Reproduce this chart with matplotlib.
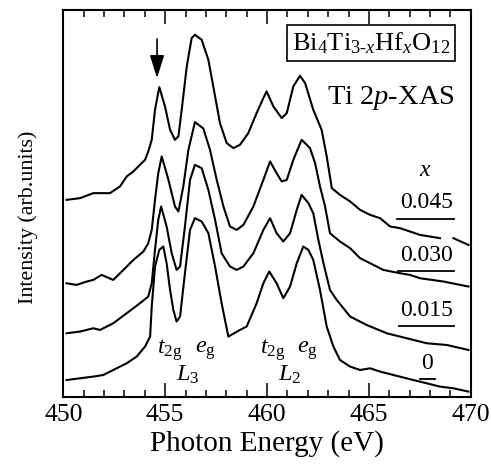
import numpy as np
import matplotlib
matplotlib.use("Agg")
import matplotlib.pyplot as plt
from matplotlib.ticker import MultipleLocator

plt.rcParams['font.family'] = ['Liberation Serif', 'DejaVu Serif']
plt.rcParams['mathtext.fontset'] = 'custom'
plt.rcParams['mathtext.rm'] = 'Liberation Serif'
plt.rcParams['mathtext.it'] = 'Liberation Serif:italic'
plt.rcParams['mathtext.bf'] = 'Liberation Serif:bold'

nan = np.nan

# Ti 2p XAS spectra, stacked (arb. units, offsets included)
e_045 = [450.16, 450.82, 451.47, 452.29, 452.78, 453.11, 453.44, 453.76, 454.01, 454.17,
         454.34, 454.50, 454.71, 454.99, 455.24, 455.48, 455.65, 455.81, 456.06, 456.30,
         456.46, 456.79, 457.12, 457.36, 457.69, 458.02, 458.35, 458.67, 459.08, 459.49,
         459.82, 459.98, 460.31, 460.72, 460.97, 461.29, 461.62, 461.87, 462.27, 462.68,
         462.93, 463.18, 463.58, 464.08, 464.57, 465.06, 465.55, 466.04, 466.53, 467.51,
         468.49, 468.8, 469.15, 469.89]
i_045 = [197.3, 199.0, 204.0, 204.0, 210.7, 220.7, 225.7, 232.3, 237.3, 245.7,
         257.3, 287.3, 310.0, 290.7, 267.3, 257.3, 260.7, 287.3, 330.7, 359.0,
         362.3, 357.3, 337.3, 310.7, 274.0, 254.0, 249.0, 252.3, 264.0, 284.0,
         299.0, 305.7, 290.7, 279.0, 284.0, 310.7, 321.3, 314.0, 287.3, 267.3,
         240.7, 209.0, 202.3, 195.7, 187.3, 182.3, 179.0, 170.7, 169.0, 162.3,
         159.0, nan, 159.0, 152.3]

e_030 = [450.16, 450.65, 451.15, 451.47, 451.88, 452.45, 452.95, 453.44, 453.93, 454.17,
         454.34, 454.50, 454.66, 454.83, 455.16, 455.48, 455.65, 455.89, 456.14, 456.46,
         456.87, 457.20, 457.53, 457.86, 458.18, 458.51, 458.84, 459.33, 459.82, 460.15,
         460.47, 460.72, 460.97, 461.29, 461.70, 462.11, 462.36, 462.60, 462.85, 463.09,
         463.58, 464.08, 464.57, 465.06, 465.71, 466.53, 467.02, 467.51, 468.66, 469.89]
i_030 = [114.0, 112.3, 115.7, 117.3, 122.3, 117.3, 127.3, 137.3, 145.7, 154.0,
         167.3, 197.3, 224.0, 240.7, 217.3, 190.7, 185.7, 210.7, 247.3, 275.0,
         268.7, 247.3, 217.3, 190.7, 170.7, 167.3, 172.3, 190.7, 217.3, 235.7,
         224.0, 215.7, 217.3, 237.3, 257.3, 249.0, 234.0, 210.7, 190.7, 164.0,
         155.7, 149.0, 139.0, 134.0, 127.3, 124.0, 122.3, 119.0, 115.7, 110.7]

e_015 = [450.16, 450.82, 451.47, 451.80, 452.45, 453.11, 453.76, 454.17, 454.34, 454.50,
         454.66, 454.80, 455.07, 455.32, 455.56, 455.73, 455.97, 456.22, 456.46, 456.79,
         457.12, 457.45, 457.77, 458.18, 458.51, 458.84, 459.33, 459.82, 460.15, 460.47,
         460.80, 461.13, 461.46, 461.70, 462.03, 462.27, 462.52, 462.77, 463.09, 463.42,
         464.08, 464.89, 465.88, 466.86, 467.84, 468.82, 469.89]
i_015 = [64.0, 65.7, 69.0, 67.3, 74.0, 84.0, 94.0, 100.7, 114.0, 147.3,
         177.3, 190.7, 170.7, 144.0, 127.3, 130.7, 170.7, 217.3, 232.3, 229.0,
         207.3, 177.3, 144.0, 130.7, 127.3, 130.7, 144.0, 167.3, 179.0, 164.0,
         155.7, 164.0, 187.3, 202.3, 194.0, 184.0, 157.3, 134.0, 107.3, 97.3,
         80.7, 72.3, 64.0, 59.0, 54.0, 52.3, 47.3]

e_000 = [450.16, 450.82, 451.47, 451.96, 452.45, 453.11, 453.60, 454.01, 454.26, 454.34,
         454.50, 454.71, 454.91, 455.07, 455.24, 455.40, 455.56, 455.73, 455.97, 456.22,
         456.46, 456.79, 457.12, 457.45, 457.77, 458.10, 458.67, 459.00, 459.49, 459.82,
         460.11, 460.47, 460.80, 461.13, 461.46, 461.78, 462.03, 462.27, 462.60, 462.93,
         463.26, 463.58, 464.08, 464.57, 465.06, 465.55, 466.20, 467.18, 467.84, 468.49,
         469.15, 469.89]
i_000 = [17.3, 19.0, 20.7, 22.3, 27.3, 34.0, 40.7, 50.7, 60.7, 90.7,
         130.7, 147.3, 150.7, 134.0, 107.3, 87.3, 75.7, 80.7, 124.0, 167.3,
         179.0, 175.7, 164.0, 130.7, 94.0, 60.7, 67.3, 70.7, 94.0, 114.0,
         125.7, 114.0, 99.0, 110.7, 134.0, 150.7, 147.3, 137.3, 107.3, 70.7,
         50.7, 37.3, 30.7, 27.3, 29.0, 25.7, 22.3, 17.3, 14.0, 10.7,
         9.0, 5.7]

x_labels = ['0.045', '0.030', '0.015', '0']

fig = plt.figure(figsize=(4.91, 4.66), dpi=100)
ax = fig.add_axes([0.129, 0.1474, 0.8297, 0.8311])

for e, i in [(e_045, i_045), (e_030, i_030), (e_015, i_015), (e_000, i_000)]:
    ax.plot(e, i, color='black', lw=1.5)

ax.set_xlim(450, 470)
ax.set_ylim(0, 387)
ax.xaxis.set_major_locator(MultipleLocator(5))
ax.xaxis.set_minor_locator(MultipleLocator(1))
ax.tick_params(axis='x', which='both', direction='in', top=True, bottom=True,
               labelsize=18.5, pad=5)
ax.tick_params(axis='x', which='major', length=10, width=1.1)
ax.tick_params(axis='x', which='minor', length=5, width=1.1)
ax.tick_params(axis='y', left=False, right=False, labelleft=False)
for s in ax.spines.values():
    s.set_linewidth(1.5)

ax.set_xlabel('Photon Energy (eV)', fontsize=21, labelpad=3)
ax.set_ylabel('Intensity (arb.units)', fontsize=15.8)
ax.yaxis.set_label_coords(-0.062, 0.465)

# sample formula and technique
ax.text(465.1, 354, r'Bi$_4$Ti$_{3\text{-}x}$Hf$_x$O$_{12}$', fontsize=19,
        ha='center', va='center',
        bbox=dict(boxstyle='square,pad=0.2', fc='white', ec='black', lw=1.2))
ax.text(466.1, 299, r'Ti 2$p$-XAS', fontsize=20.5, ha='center', va='center')

# composition labels with underlines
ax.text(467.75, 227, r'$x$', fontsize=17, ha='center', va='center')
lab_y = [195, 142, 87, 34]
line_y = [178, 126, 71, 18]
line_x = [(466.37, 469.2), (466.42, 469.2), (466.47, 469.2), (467.5, 468.25)]
for lab, ly, uy, (x0, x1) in zip(x_labels, lab_y, line_y, line_x):
    ax.text(467.85, ly, lab, fontsize=17, ha='center', va='center')
    ax.plot([x0, x1], [uy, uy], color='black', lw=1.3)

# peak assignments
ax.text(455.2, 47, r'$t_{2\mathrm{g}}$', fontsize=17.5, ha='center', va='center')
ax.text(457.0, 47, r'$e_{\mathrm{g}}$', fontsize=17.5, ha='center', va='center')
ax.text(456.1, 22, r'$L_3$', fontsize=17.5, ha='center', va='center')
ax.text(460.3, 47, r'$t_{2\mathrm{g}}$', fontsize=17.5, ha='center', va='center')
ax.text(462.0, 47, r'$e_{\mathrm{g}}$', fontsize=17.5, ha='center', va='center')
ax.text(461.1, 22, r'$L_2$', fontsize=17.5, ha='center', va='center')

ax.annotate('', xy=(454.6, 319), xytext=(454.6, 358),
            arrowprops=dict(arrowstyle='-|>,head_length=0.7,head_width=0.22',
                            mutation_scale=20, color='black', lw=1.2,
                            shrinkA=0, shrinkB=0))

fig.savefig('out.png', dpi=100)
